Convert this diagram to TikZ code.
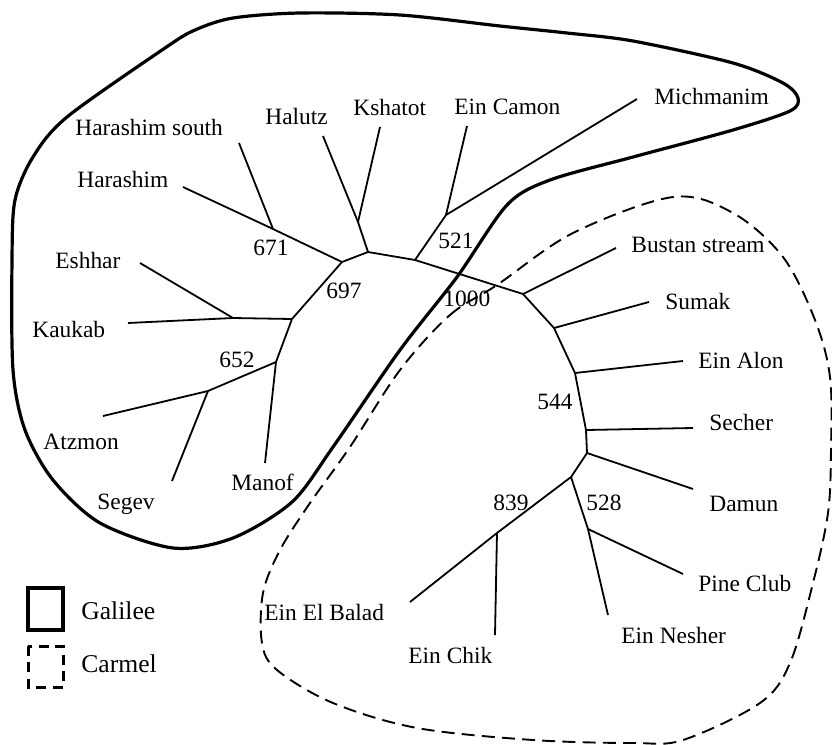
\documentclass[tikz,border=0pt]{standalone}
\usepackage{fontspec}
\setmainfont{Liberation Serif}
\begin{document}
\begin{tikzpicture}[x=0.5pt,y=-0.5pt,
  branch/.style={line width=0.9pt, line join=round},
  lbl/.style={anchor=base west, inner sep=0pt, font=\fontsize{11.7}{14}\selectfont},
  legtext/.style={anchor=base west, inner sep=0pt, font=\fontsize{12.8}{15}\selectfont},
  galilee/.style={line width=1.6pt},
  carmel/.style={line width=0.95pt, dash pattern=on 6.5pt off 3.6pt}]
\useasboundingbox (0,0) rectangle (832,745);

% ---- region outlines ----
\draw[galilee] plot[smooth cycle, tension=0.5] coordinates {
  (165,48) (195,30) (233,18) (300,13) (400,15) (500,26) (567,33) (633,41)
  (733,63) (783,83) (798,98) (790,111) (733,130) (633,157) (550,180)
  (507,205) (457,277) (400,350) (333,447) (292,502) (233,538) (173,548)
  (100,523) (53,480) (25,430) (13,370) (12,260) (15,200) (33,157) (67,117)};
\draw[carmel] plot[smooth cycle, tension=0.55] coordinates {
  (400,370) (450,315) (497,285) (573,233) (673,197) (733,213) (783,257)
  (815,320) (830,377) (831,450) (828,513) (813,583) (790,663) (760,703)
  (683,740) (633,743) (533,740) (417,728) (333,703) (277,670) (262,643)
  (263,593) (280,550) (310,503) (350,447)};

% ---- tree: junctions and leaf ends ----
\coordinate (hsE) at (239,143);  \coordinate (j671) at (273,229);
\coordinate (hrE) at (183,187);  \coordinate (nA) at (342,262);
\coordinate (nB) at (368,252);   \coordinate (halE) at (323,136);
\coordinate (kshJ) at (358,222); \coordinate (kshE) at (380,127);
\coordinate (b521) at (415,260); \coordinate (n521) at (446,215);
\coordinate (camE) at (467,126); \coordinate (micE) at (637,99);
\coordinate (nC) at (523,294);   \coordinate (busE) at (616,248);
\coordinate (nSum) at (554,328); \coordinate (sumE) at (649,302);
\coordinate (nAlon) at (575,373);\coordinate (alonE) at (683,361);
\coordinate (nSec) at (586,430); \coordinate (secE) at (693,428);
\coordinate (nDam) at (587,453); \coordinate (damE) at (693,489);
\coordinate (nLow) at (571,477); \coordinate (balE) at (410,602);
\coordinate (chikJ) at (497,533);\coordinate (chikE) at (495,635);
\coordinate (n528) at (588,529); \coordinate (pineE) at (683,574);
\coordinate (nesE) at (608,615);
\coordinate (nK) at (292,319);   \coordinate (eshJ) at (233,318);
\coordinate (kauE) at (128,323); \coordinate (eshE) at (140,263);
\coordinate (n652) at (276,362); \coordinate (atzJ) at (208,391);
\coordinate (atzE) at (103,416); \coordinate (segE) at (172,481);
\coordinate (manE) at (265,463);

% ---- tree: branches ----
\draw[branch] (hrE) -- (j671) -- (nA) -- (nB) -- (b521) -- (nC) -- (nSum)
  -- (nAlon) -- (nSec) -- (nDam) -- (nLow);
\draw[branch] (j671) -- (hsE);
\draw[branch] (nB) -- (kshJ) -- (halE);
\draw[branch] (kshJ) -- (kshE);
\draw[branch] (b521) -- (n521) -- (camE);
\draw[branch] (n521) -- (micE);
\draw[branch] (nC) -- (busE);
\draw[branch] (nSum) -- (sumE);
\draw[branch] (nAlon) -- (alonE);
\draw[branch] (nSec) -- (secE);
\draw[branch] (nDam) -- (damE);
\draw[branch] (nLow) -- (chikJ) -- (balE);
\draw[branch] (chikJ) -- (chikE);
\draw[branch] (nLow) -- (n528) -- (nesE);
\draw[branch] (n528) -- (pineE);
\draw[branch] (nA) -- (nK) -- (n652) -- (manE);
\draw[branch] (nK) -- (eshJ) -- (kauE);
\draw[branch] (eshJ) -- (eshE);
\draw[branch] (n652) -- (atzJ) -- (atzE);
\draw[branch] (atzJ) -- (segE);

% ---- leaf labels ----
\node[lbl] (tHS) at (75,135) {Harashim south};
\node[lbl] (tHR) at (77,187) {Harashim};
\node[lbl] (tHal) at (265,124) {Halutz};
\node[lbl] (tKsh) at (353,115) {Kshatot};
\node[lbl] (tCam) at (454,114) {Ein Camon};
\node[lbl] (tMic) at (654,104) {Michmanim};
\node[lbl] (tEsh) at (55,268) {Eshhar};
\node[lbl] (tKau) at (32,337) {Kaukab};
\node[lbl] (tAtz) at (43,449) {Atzmon};
\node[lbl] (tSeg) at (97,509) {Segev};
\node[lbl] (tMan) at (231,490) {Manof};
\node[lbl] (tBus) at (631,252) {Bustan stream};
\node[lbl] (tSum) at (665,309) {Sumak};
\node[lbl] (tAlon) at (698,368) {Ein Alon};
\node[lbl] (tSec) at (709,430) {Secher};
\node[lbl] (tDam) at (709,511) {Damun};
\node[lbl] (tPine) at (698,591) {Pine Club};
\node[lbl] (tNes) at (621,643) {Ein Nesher};
\node[lbl] (tChik) at (408,663) {Ein Chik};
\node[lbl] (tBal) at (264,620) {Ein El Balad};

% ---- bootstrap values ----
\node[lbl] (v671) at (253,255) {671};
\node[lbl] (v697) at (326,298) {697};
\node[lbl] (v652) at (219,367) {652};
\node[lbl] (v521) at (438,248) {521};
\node[lbl] (v1000) at (443,306) {1000};
\node[lbl] (v544) at (537,409) {544};
\node[lbl] (v839) at (493,510) {839};
\node[lbl] (v528) at (586,510) {528};

% ---- legend ----
\draw[galilee] (28,588) rectangle (63,630);
\draw[line width=1.5pt, dash pattern=on 5pt off 3.2pt] (28,646) rectangle (63,687);
\node[legtext] (lgG) at (81,619) {Galilee};
\node[legtext] (lgC) at (81,672) {Carmel};
\end{tikzpicture}
\end{document}
